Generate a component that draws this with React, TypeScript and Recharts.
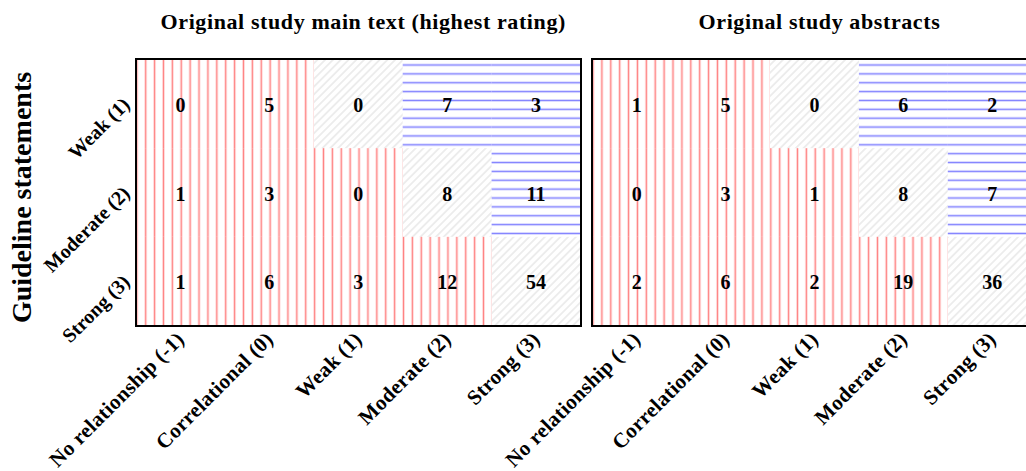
import React from 'react';
import { ScatterChart, Scatter, XAxis, YAxis } from 'recharts';

const studyLevels = ['No relationship (-1)', 'Correlational (0)', 'Weak (1)', 'Moderate (2)', 'Strong (3)'];
const studyScores = [-1, 0, 1, 2, 3];
const guidelineLevels = ['Weak (1)', 'Moderate (2)', 'Strong (3)'];
const guidelineScores = [1, 2, 3];
const mainTextCounts = [
  [0, 5, 0, 7, 3],
  [1, 3, 0, 8, 11],
  [1, 6, 3, 12, 54],
];
const abstractCounts = [
  [1, 5, 0, 6, 2],
  [0, 3, 1, 8, 7],
  [2, 6, 2, 19, 36],
];
const panelTitles = ['Original study main text (highest rating)', 'Original study abstracts'];
const yAxisTitle = 'Guideline statements';

const FONT = '"Liberation Serif", "Times New Roman", serif';
const CHART_H = 471;
const PLOT_TOP = 59.5;
const PLOT_H = 266;
const PLOT_W = 444.5;
const CELL_W = PLOT_W / 5;
const CELL_H = PLOT_H / 3;
const X_AXIS_H = 120;
const MARGIN_BOTTOM = CHART_H - PLOT_TOP - PLOT_H - X_AXIS_H;

type Cell = { x: string; y: string; value: number; kind: string };

function buildCells(counts: number[][]): Cell[] {
  const out: Cell[] = [];
  guidelineLevels.forEach((g, r) => {
    studyLevels.forEach((s, c) => {
      const d = studyScores[c] - guidelineScores[r];
      out.push({ x: s, y: g, value: counts[r][c], kind: d < 0 ? 'over' : d === 0 ? 'match' : 'under' });
    });
  });
  return out;
}

const XTick = (props: any) => {
  const { x, y, payload } = props;
  const ax = x + 5;
  const ay = y + 15;
  return (
    <text x={ax} y={ay} transform={`rotate(-45, ${ax}, ${ay})`} textAnchor="end" fontFamily={FONT} fontWeight="bold" fontSize={21} letterSpacing={0.3} fill="#000">
      {payload.value}
    </text>
  );
};

const YTick = (props: any) => {
  const { x, y, payload } = props;
  const ax = x - 5;
  const ay = y + 2;
  return (
    <text x={ax} y={ay} transform={`rotate(-45, ${ax}, ${ay})`} textAnchor="end" fontFamily={FONT} fontWeight="bold" fontSize={20} fill="#000">
      {payload.value}
    </text>
  );
};

const YTitle = (props: any) => {
  const vb = props.viewBox || { x: 0, y: PLOT_TOP, width: 136, height: PLOT_H };
  const tx = vb.x + 21;
  const ty = vb.y + vb.height / 2 + 5;
  return (
    <text x={tx} y={ty} transform={`rotate(-90, ${tx}, ${ty})`} textAnchor="middle" dominantBaseline="central" fontFamily={FONT} fontWeight="bold" fontSize={28} fill="#000">
      {yAxisTitle}
    </text>
  );
};

type PanelProps = {
  id: string;
  counts: number[][];
  title: string;
  pageLeft: number;
  width: number;
  plotLeft: number;
  showY: boolean;
};

function Panel({ id, counts, title, pageLeft, width, plotLeft, showY }: PanelProps) {
  const data = buildCells(counts);
  const yAxisW = showY ? plotLeft : 0;
  const marginLeft = showY ? 0 : plotLeft;
  const marginRight = width - plotLeft - PLOT_W;

  const shape = (p: any) => {
    const { cx, cy, payload } = p;
    return (
      <g>
        <rect x={cx - CELL_W / 2} y={cy - CELL_H / 2} width={CELL_W} height={CELL_H} fill={`url(#${id}-${payload.kind})`} />
        <text x={cx} y={cy + 1} textAnchor="middle" dominantBaseline="central" fontFamily={FONT} fontWeight="bold" fontSize={20} fill="#000">
          {payload.value}
        </text>
      </g>
    );
  };

  const rw = CELL_W / 10;
  const bh = CELL_H / 10;

  return (
    <div style={{ position: 'absolute', left: pageLeft, top: 0, width, height: CHART_H }}>
      <ScatterChart width={width} height={CHART_H} margin={{ top: PLOT_TOP, right: marginRight, bottom: MARGIN_BOTTOM, left: marginLeft }}>
        <defs>
          <pattern id={`${id}-over`} patternUnits="userSpaceOnUse" x={plotLeft + 0.8 - rw / 2} y={0} width={rw} height={20}>
            <line x1={rw / 2} x2={rw / 2} y1={0} y2={20} stroke="#ff8383" strokeWidth={1.6} />
          </pattern>
          <pattern id={`${id}-under`} patternUnits="userSpaceOnUse" x={0} y={PLOT_TOP + 5.5 - bh / 2} width={20} height={bh}>
            <line x1={0} x2={20} y1={bh / 2} y2={bh / 2} stroke="#8383ff" strokeWidth={1.6} />
          </pattern>
          <pattern id={`${id}-match`} patternUnits="userSpaceOnUse" x={0} y={0} width={5.5} height={5.5} patternTransform="rotate(45)">
            <line x1={2.75} x2={2.75} y1={0} y2={5.5} stroke="#ececec" strokeWidth={1.8} />
          </pattern>
        </defs>
        <XAxis
          dataKey="x"
          type="category"
          allowDuplicatedCategory={false}
          height={X_AXIS_H}
          axisLine={false}
          tickLine={false}
          tickSize={0}
          tickMargin={0}
          interval={0}
          tick={<XTick />}
        />
        <YAxis
          dataKey="y"
          type="category"
          allowDuplicatedCategory={false}
          reversed
          hide={!showY}
          width={yAxisW}
          axisLine={false}
          tickLine={false}
          tickSize={0}
          tickMargin={0}
          interval={0}
          tick={<YTick />}
          label={showY ? <YTitle /> : undefined}
        />
        <Scatter data={data} isAnimationActive={false} shape={shape} />
      </ScatterChart>
      <div
        style={{
          position: 'absolute',
          left: plotLeft - 1.4,
          top: PLOT_TOP - 1.4,
          width: PLOT_W + 2.8,
          height: PLOT_H + 2.8,
          border: '2.8px solid #000',
          boxSizing: 'border-box',
          pointerEvents: 'none',
        }}
      />
      <div
        style={{
          position: 'absolute',
          left: plotLeft + 5,
          top: 9,
          width: PLOT_W,
          textAlign: 'center',
          fontFamily: FONT,
          fontWeight: 'bold',
          fontSize: 22,
          letterSpacing: '0.6px',
          lineHeight: '26px',
          color: '#000',
          whiteSpace: 'nowrap',
        }}
      >
        {title}
      </div>
    </div>
  );
}

export default function App() {
  return (
    <div style={{ position: 'absolute', left: 0, top: 0, width: 1026, height: 471, overflow: 'hidden', background: '#fff' }}>
      <Panel id="main" counts={mainTextCounts} title={panelTitles[0]} pageLeft={0} width={586} plotLeft={136} showY={true} />
      <Panel id="abs" counts={abstractCounts} title={panelTitles[1]} pageLeft={450} width={596} plotLeft={142.2} showY={false} />
    </div>
  );
}
